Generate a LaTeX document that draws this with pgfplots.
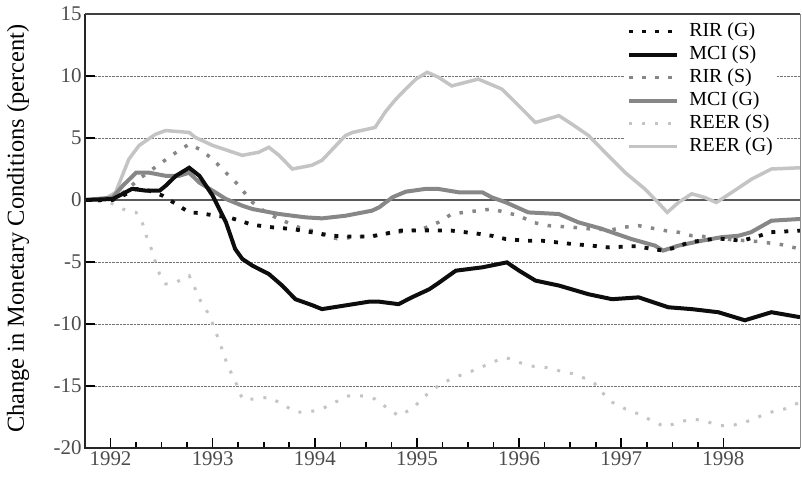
\documentclass[border=0pt]{standalone}
\usepackage{fontspec}
\setmainfont{Liberation Serif}
\usepackage{pgfplots}
\pgfplotsset{compat=1.18}
\usetikzlibrary{calc}
\definecolor{cblack}{gray}{0.05}
\definecolor{cmid}{gray}{0.53}
\definecolor{clight}{gray}{0.77}
\tikzset{
 rirg/.style={cblack, line width=3.8bp, dash pattern=on 4bp off 9bp},
 mcis/.style={cblack, line width=4bp},
 rirs/.style={cmid, line width=3.5bp, dash pattern=on 3.5bp off 9.5bp},
 mcig/.style={cmid, line width=4bp},
 reers/.style={clight, line width=3bp, dash pattern=on 3bp off 10bp},
 reerg/.style={clight, line width=3.5bp},
}
\begin{document}
\begin{tikzpicture}
\begin{axis}[
 name=ax, scale only axis, width=715bp, height=434bp,
 xmin=1991.75, xmax=1998.75, ymin=-20, ymax=15,
 axis line style={draw=none},
 clip mode=individual,
 xtick={1992,1993,1994,1995,1996,1997,1998},
 xticklabels={1992,1993,1994,1995,1996,1997,1998},
 minor x tick num=3,
 ytick={-20,-15,-10,-5,0,5,10,15},
 yticklabels={-20,-15,-10,-5,0,5,10,15},
 tick align=inside, xtick pos=left, ytick pos=left,
 major tick length=10bp, minor tick length=6bp,
 tick style={line width=1.6bp, black},
 ymajorgrids,
 major grid style={densely dotted, line width=0.9bp, black!55},
 tick label style={font=\fontsize{21}{23}\selectfont, text=black!70},
 ylabel={Change in Monetary Conditions (percent)},
 ylabel style={font=\fontsize{24.5}{27}\selectfont, at={(axis description cs:-0.0937,0.505)}, anchor=center},
 legend style={at={(rel axis cs:0.754,0.99)}, anchor=north west, draw=none, fill=white,
   font=\fontsize{20}{22}\selectfont, inner sep=3bp, row sep=3bp,
   nodes={inner sep=1bp, text height=14bp, text depth=4bp},
   /tikz/every odd column/.style={column sep=9bp}},
 legend cell align=left,
 legend image code/.code={\draw[#1] (0bp,0bp) -- (48bp,0bp);},
]
\addlegendimage{rirg}
\addlegendentry{RIR (G)}
\addlegendimage{mcis}
\addlegendentry{MCI (S)}
\addlegendimage{rirs}
\addlegendentry{RIR (S)}
\addlegendimage{mcig}
\addlegendentry{MCI (G)}
\addlegendimage{reers}
\addlegendentry{REER (S)}
\addlegendimage{reerg}
\addlegendentry{REER (G)}

\draw[line width=1.6bp, black!65] (axis cs:1991.75,0) -- (axis cs:1998.75,0);

% REER (G)
\addplot[reerg, forget plot] coordinates {
(1991.75,0)(1991.95,0.1)(1992.05,0.62)(1992.18,3.3)(1992.28,4.4)(1992.44,5.3)(1992.54,5.6)(1992.77,5.45)(1992.83,5.05)(1993.0,4.4)(1993.29,3.6)(1993.45,3.85)(1993.55,4.25)(1993.65,3.6)(1993.78,2.5)(1993.97,2.8)(1994.07,3.2)(1994.30,5.2)(1994.37,5.45)(1994.59,5.85)(1994.69,7.1)(1994.79,8.1)(1994.89,8.95)(1994.99,9.75)(1995.10,10.3)(1995.21,9.9)(1995.34,9.2)(1995.60,9.75)(1995.83,8.95)(1995.93,8.15)(1996.16,6.25)(1996.39,6.8)(1996.52,6.1)(1996.68,5.2)(1996.84,3.85)(1997.04,2.2)(1997.23,0.9)(1997.36,-0.2)(1997.45,-1.0)(1997.56,-0.2)(1997.69,0.5)(1997.82,0.2)(1997.93,-0.2)(1998.08,0.6)(1998.28,1.7)(1998.47,2.5)(1998.75,2.6)};
% REER (S)
\addplot[reers, forget plot] coordinates {
(1991.75,0)(1991.99,-0.19)(1992.12,-0.73)(1992.25,-1.0)(1992.31,-1.8)(1992.35,-2.88)(1992.40,-3.95)(1992.44,-5.03)(1992.48,-5.97)(1992.54,-6.77)(1992.64,-6.64)(1992.77,-6.1)(1992.83,-7.18)(1992.88,-8.12)(1992.95,-9.06)(1993.0,-10)(1993.05,-11.07)(1993.09,-12.0)(1993.14,-13.2)(1993.19,-14.1)(1993.24,-14.97)(1993.29,-16.05)(1993.42,-16.05)(1993.55,-15.9)(1993.68,-16.45)(1993.81,-17.1)(1993.94,-17.1)(1994.07,-16.85)(1994.20,-16.3)(1994.33,-15.8)(1994.46,-15.8)(1994.59,-16.05)(1994.72,-16.85)(1994.82,-17.4)(1994.95,-16.85)(1995.08,-15.8)(1995.21,-14.97)(1995.34,-14.4)(1995.47,-14.0)(1995.60,-13.6)(1995.73,-13.1)(1995.87,-12.7)(1996.0,-13.1)(1996.13,-13.4)(1996.26,-13.5)(1996.39,-13.77)(1996.52,-14.0)(1996.65,-14.4)(1996.74,-14.8)(1996.81,-15.5)(1996.91,-16.3)(1997.04,-16.85)(1997.17,-17.26)(1997.30,-17.8)(1997.43,-18.3)(1997.56,-17.93)(1997.69,-17.66)(1997.82,-17.8)(1997.95,-18.2)(1998.08,-18.2)(1998.21,-17.93)(1998.34,-17.5)(1998.47,-17.1)(1998.60,-16.85)(1998.75,-16.3)};
% MCI (G)
\addplot[mcig, forget plot] coordinates {
(1991.75,0)(1992.02,0.2)(1992.12,1.15)(1992.25,2.2)(1992.38,2.2)(1992.54,1.95)(1992.67,1.95)(1992.77,2.2)(1992.87,1.4)(1993.0,0.75)(1993.13,0.08)(1993.29,-0.46)(1993.39,-0.73)(1993.65,-1.13)(1993.91,-1.4)(1994.07,-1.48)(1994.30,-1.27)(1994.56,-0.86)(1994.63,-0.59)(1994.76,0.22)(1994.89,0.67)(1995.08,0.89)(1995.21,0.89)(1995.41,0.62)(1995.64,0.62)(1995.73,0.22)(1995.87,-0.19)(1996.09,-1.0)(1996.39,-1.13)(1996.58,-1.8)(1996.80,-2.3)(1997.10,-3.15)(1997.33,-3.68)(1997.41,-4.08)(1997.56,-3.68)(1997.79,-3.28)(1997.98,-3.0)(1998.15,-2.88)(1998.27,-2.6)(1998.47,-1.67)(1998.75,-1.53)};
% RIR (S)
\addplot[rirs, forget plot] coordinates {
(1991.75,0)(1992.02,0)(1992.15,0.75)(1992.28,1.7)(1992.48,2.9)(1992.67,4.0)(1992.77,4.5)(1992.87,4.1)(1993.0,3.3)(1993.13,2.2)(1993.26,1.15)(1993.32,0.5)(1993.39,-0.19)(1993.52,-1.0)(1993.65,-1.53)(1993.84,-2.2)(1993.97,-2.47)(1994.10,-2.88)(1994.22,-3.12)(1994.40,-3.0)(1994.60,-2.85)(1994.85,-2.55)(1995.05,-2.35)(1995.21,-1.8)(1995.34,-1.13)(1995.46,-1.0)(1995.73,-0.73)(1995.87,-1.0)(1996.0,-1.27)(1996.13,-1.8)(1996.29,-2.07)(1996.52,-2.2)(1996.71,-2.34)(1996.91,-2.4)(1997.02,-2.2)(1997.17,-2.07)(1997.43,-2.47)(1997.56,-2.6)(1997.69,-2.88)(1997.82,-2.95)(1998.08,-3.2)(1998.34,-3.35)(1998.57,-3.6)(1998.75,-3.95)};
% RIR (G)
\addplot[rirg, forget plot] coordinates {
(1991.75,0)(1992.02,0)(1992.12,0.35)(1992.25,0.89)(1992.38,0.75)(1992.51,0.35)(1992.64,-0.32)(1992.77,-1.0)(1992.87,-1.05)(1993.03,-1.27)(1993.16,-1.4)(1993.39,-2.0)(1993.58,-2.2)(1993.78,-2.34)(1993.97,-2.6)(1994.17,-2.88)(1994.32,-2.95)(1994.56,-2.93)(1994.84,-2.47)(1995.10,-2.45)(1995.34,-2.47)(1995.58,-2.7)(1995.73,-2.88)(1995.87,-3.15)(1996.06,-3.28)(1996.22,-3.28)(1996.52,-3.55)(1996.71,-3.68)(1996.87,-3.82)(1997.15,-3.72)(1997.30,-3.95)(1997.41,-4.08)(1997.54,-3.82)(1997.66,-3.41)(1997.94,-3.1)(1998.18,-3.28)(1998.31,-3.0)(1998.46,-2.6)(1998.75,-2.47)};
% MCI (S)
\addplot[mcis, forget plot] coordinates {
(1991.75,0)(1992.02,0.08)(1992.12,0.5)(1992.21,0.9)(1992.35,0.75)(1992.48,0.75)(1992.54,1.15)(1992.64,1.95)(1992.77,2.6)(1992.87,1.95)(1993.0,0.35)(1993.13,-1.8)(1993.22,-3.95)(1993.29,-4.75)(1993.39,-5.3)(1993.55,-5.97)(1993.68,-6.9)(1993.81,-8.0)(1993.98,-8.5)(1994.07,-8.8)(1994.30,-8.5)(1994.53,-8.2)(1994.63,-8.2)(1994.82,-8.4)(1994.95,-7.85)(1995.12,-7.2)(1995.21,-6.7)(1995.38,-5.7)(1995.64,-5.43)(1995.88,-5.03)(1996.0,-5.7)(1996.16,-6.5)(1996.39,-6.9)(1996.68,-7.6)(1996.91,-8.0)(1997.17,-7.85)(1997.46,-8.65)(1997.69,-8.8)(1997.95,-9.05)(1998.21,-9.7)(1998.47,-9.05)(1998.75,-9.45)};

\draw[line width=2.6bp, black!85] (rel axis cs:0,1) -- (rel axis cs:0,0) -- (rel axis cs:1,0);
\draw[line width=2bp, black!75] (rel axis cs:0,1) -- (rel axis cs:1,1);
\draw[line width=1bp, black!45] (rel axis cs:1,0) -- (rel axis cs:1,1);
\end{axis}
\pgfresetboundingbox
\useasboundingbox ($(ax.south west)+(-85bp,-28bp)$) rectangle ($(ax.north east)+(2bp,14bp)$);
\end{tikzpicture}
\end{document}
